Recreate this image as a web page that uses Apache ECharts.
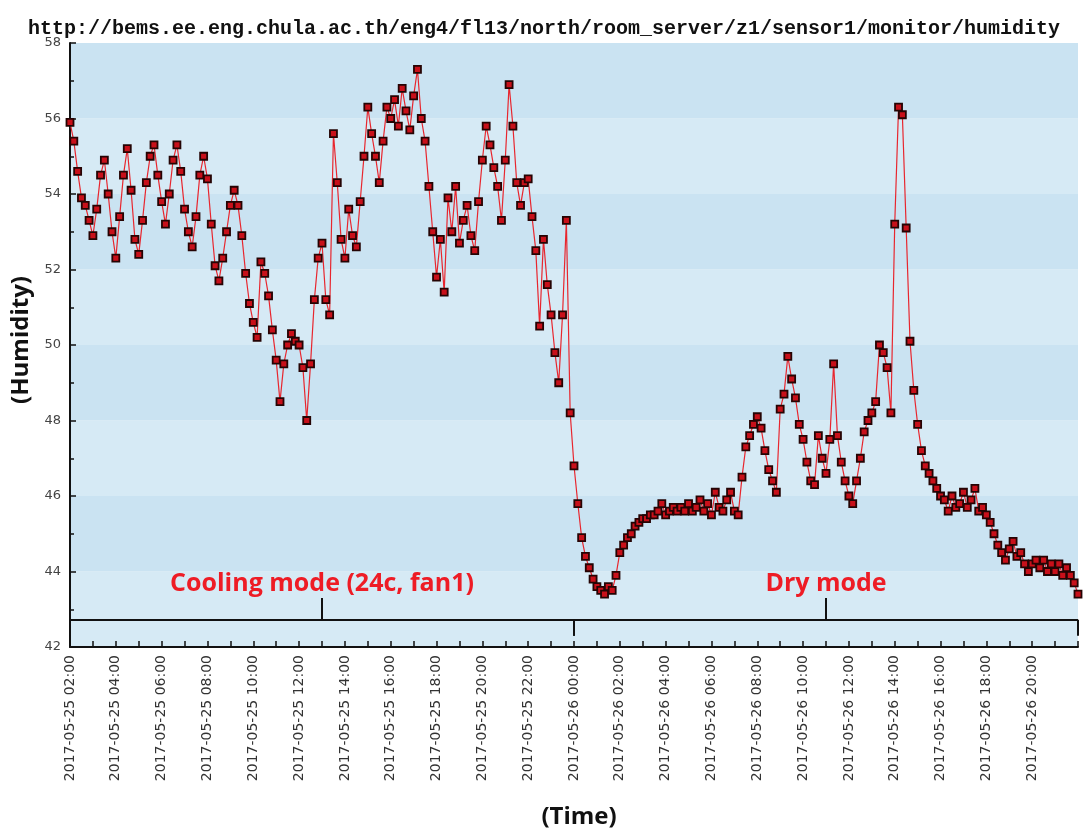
<!DOCTYPE html>
<html>
<head>
<meta charset="utf-8">
<script src="https://cdn.jsdelivr.net/npm/echarts@6/dist/echarts.min.js"></script>
<style>
  html, body { margin: 0; background: #fff; }
  #chart { width: 1088px; height: 835px; }
</style>
</head>
<body>
<div id="chart"></div>
<script>
// humidity, one reading every 10 min from 2017-05-25 02:00
// cooling mode: 05-25 02:00 .. 05-26 00:00
var coolingValues = [
  55.9, 55.4, 54.6, 53.9, 53.7, 53.3, 52.9, 53.6, 54.5, 54.9,
  54.0, 53.0, 52.3, 53.4, 54.5, 55.2, 54.1, 52.8, 52.4, 53.3,
  54.3, 55.0, 55.3, 54.5, 53.8, 53.2, 54.0, 54.9, 55.3, 54.6,
  53.6, 53.0, 52.6, 53.4, 54.5, 55.0, 54.4, 53.2, 52.1, 51.7,
  52.3, 53.0, 53.7, 54.1, 53.7, 52.9, 51.9, 51.1, 50.6, 50.2,
  52.2, 51.9, 51.3, 50.4, 49.6, 48.5, 49.5, 50.0, 50.3, 50.1,
  50.0, 49.4, 48.0, 49.5, 51.2, 52.3, 52.7, 51.2, 50.8, 55.6,
  54.3, 52.8, 52.3, 53.6, 52.9, 52.6, 53.8, 55.0, 56.3, 55.6,
  55.0, 54.3, 55.4, 56.3, 56.0, 56.5, 55.8, 56.8, 56.2, 55.7,
  56.6, 57.3, 56.0, 55.4, 54.2, 53.0, 51.8, 52.8, 51.4, 53.9,
  53.0, 54.2, 52.7, 53.3, 53.7, 52.9, 52.5, 53.8, 54.9, 55.8,
  55.3, 54.7, 54.2, 53.3, 54.9, 56.9, 55.8, 54.3, 53.7, 54.3,
  54.4, 53.4, 52.5, 50.5, 52.8, 51.6, 50.8, 49.8, 49.0, 50.8,
  53.3, 48.2, 46.8
]
// dry mode: 05-26 00:10 .. 05-26 22:00
var dryValues = [
  45.8, 44.9, 44.4, 44.1, 43.8, 43.6, 43.5, 43.4, 43.6, 43.5,
  43.9, 44.5, 44.7, 44.9, 45.0, 45.2, 45.3, 45.4, 45.4, 45.5,
  45.5, 45.6, 45.8, 45.5, 45.6, 45.7, 45.6, 45.7, 45.6, 45.8,
  45.6, 45.7, 45.9, 45.6, 45.8, 45.5, 46.1, 45.7, 45.6, 45.9,
  46.1, 45.6, 45.5, 46.5, 47.3, 47.6, 47.9, 48.1, 47.8, 47.2,
  46.7, 46.4, 46.1, 48.3, 48.7, 49.7, 49.1, 48.6, 47.9, 47.5,
  46.9, 46.4, 46.3, 47.6, 47.0, 46.6, 47.5, 49.5, 47.6, 46.9,
  46.4, 46.0, 45.8, 46.4, 47.0, 47.7, 48.0, 48.2, 48.5, 50.0,
  49.8, 49.4, 48.2, 53.2, 56.3, 56.1, 53.1, 50.1, 48.8, 47.9,
  47.2, 46.8, 46.6, 46.4, 46.2, 46.0, 45.9, 45.6, 46.0, 45.7,
  45.8, 46.1, 45.7, 45.9, 46.2, 45.6, 45.7, 45.5, 45.3, 45.0,
  44.7, 44.5, 44.3, 44.6, 44.8, 44.4, 44.5, 44.2, 44.0, 44.2,
  44.3, 44.1, 44.3, 44.0, 44.2, 44.0, 44.2, 43.9, 44.1, 43.9,
  43.7, 43.4
]
var humidity = coolingValues.concat(dryValues)

// time labels
function pad(n) { return (n < 10 ? '0' : '') + n }
var times = []
for (var i = 0; i < humidity.length; i++) {
  var m = 120 + i * 10
  var day = 25 + Math.floor(m / 1440)
  var mm = m % 1440
  times.push('2017-05-' + day + ' ' + pad(Math.floor(mm / 60)) + ':' + pad(mm % 60))
}

// annotation braces: [index, humidity]
var braceY = 42.72
var braceEnd = 42.3
var braceTip = 43.3
var modes = [
  { name: 'Cooling mode (24c, fan1)', from: 0, mid: 66, to: 132 },
  { name: 'Dry mode', from: 132, mid: 198, to: 264 }
]

var braceLines = []
modes.forEach(function (md) {
  braceLines.push([{ coord: [times[md.from], braceY] }, { coord: [times[md.to], braceY] }])
  braceLines.push([{ coord: [times[md.from], braceY] }, { coord: [times[md.from], braceEnd] }])
  braceLines.push([{ coord: [times[md.to], braceY] }, { coord: [times[md.to], braceEnd] }])
  braceLines.push([
    { coord: [times[md.mid], braceY], label: { show: true, formatter: md.name } },
    { coord: [times[md.mid], braceTip] }
  ])
})

var chart = echarts.init(document.getElementById('chart'))
chart.setOption({
  animation: false,
  title: {
    text: 'http://bems.ee.eng.chula.ac.th/eng4/fl13/north/room_server/z1/sensor1/monitor/humidity',
    left: 'center',
    top: 14,
    textStyle: { fontFamily: 'Liberation Mono', fontSize: 20, fontWeight: 'bold', color: '#111' }
  },
  grid: { left: 70, right: 10, top: 43, bottom: 188, containLabel: false },
  xAxis: {
    type: 'category',
    data: times,
    boundaryGap: false,
    name: '(Time)',
    nameLocation: 'middle',
    nameGap: 158,
    nameTextStyle: { fontFamily: 'Open Sans', fontWeight: 'bold', fontSize: 24, color: '#111', padding: [0, 0, 0, 10] },
    axisLine: { lineStyle: { color: '#111', width: 2 } },
    axisTick: { inside: true, length: 6, interval: 5, lineStyle: { color: '#111', width: 1.5 } },
    axisLabel: {
      rotate: 90,
      margin: 8,
      fontFamily: 'DejaVu Sans',
      fontSize: 14,
      color: '#333',
      interval: function (idx) { return idx % 12 === 0 && idx < 264 }
    },
    splitLine: { show: false }
  },
  yAxis: {
    type: 'value',
    min: 42,
    max: 58,
    interval: 2,
    name: '(Humidity)',
    nameLocation: 'middle',
    nameGap: 20,
    nameTextStyle: { fontFamily: 'Open Sans', fontWeight: 'bold', fontSize: 24, color: '#111', padding: [0, 0, 0, 10] },
    axisLine: { show: true, lineStyle: { color: '#111', width: 2 } },
    axisTick: { show: true, inside: true, length: 6, lineStyle: { color: '#111', width: 1.5 } },
    minorTick: { show: true, splitNumber: 2, length: 4, lineStyle: { color: '#111', width: 1.5 } },
    axisLabel: { fontFamily: 'DejaVu Sans', fontSize: 13, color: '#444', margin: 9 },
    splitLine: { show: false },
    splitArea: { show: true, areaStyle: { color: ['#d6eaf5', '#cae3f2'] } }
  },
  series: [{
    type: 'line',
    data: humidity,
    showAllSymbol: true,
    symbol: 'rect',
    symbolSize: 7,
    itemStyle: { color: '#c8101a', borderColor: '#250404', borderWidth: 1.8 },
    lineStyle: { color: '#e8262e', width: 1.2 },
    markLine: {
      silent: true,
      symbol: ['none', 'none'],
      lineStyle: { color: '#111', width: 2, type: 'solid' },
      label: {
        show: false,
        position: 'end',
        distance: 2,
        color: '#ee1c25',
        fontFamily: 'Open Sans',
        fontWeight: 'bold',
        fontSize: 25
      },
      data: braceLines
    }
  }]
})
</script>
</body>
</html>
